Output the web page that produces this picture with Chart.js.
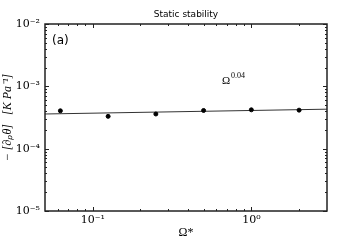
<!DOCTYPE html>
<html>
<head>
<meta charset="utf-8">
<script src="https://cdn.jsdelivr.net/npm/chart.js@4"></script>
<style>
  html, body { margin: 0; padding: 0; background: #fff; }
  #wrap { width: 363px; height: 242px; }
</style>
</head>
<body>
<div id="wrap"><canvas id="chart"></canvas></div>
<script>
// data
var omega = [0.0625, 0.125, 0.25, 0.5, 1, 2];
var stability = [4.05e-4, 3.3e-4, 3.6e-4, 4.1e-4, 4.2e-4, 4.15e-4];
var fitX = [0.05, 3];
var fitY = [3.6e-4, 4.3e-4];
var xTicks = [0.1, 1];
var yTicks = [1e-5, 1e-4, 1e-3, 1e-2];
var sup = { '-': '\u207B', '0': '\u2070', '1': '\u00B9', '2': '\u00B2', '3': '\u00B3', '4': '\u2074', '5': '\u2075' };

function powLabel(v) {
    var e = Math.round(Math.log10(v));
    return '10' + String(e).split('').map(function (c) { return sup[c]; }).join('');
}

function minorValues(min, max) {
    var out = [];
    for (var e = -6; e <= 1; e++) {
        for (var m = 2; m <= 9; m++) {
            var v = m * Math.pow(10, e);
            if (v > min && v < max) out.push(v);
        }
    }
    return out;
}

// inward ticks on all four sides, box frame, and text annotations
var frame = {
    id: 'frame',
    afterDraw: function (chart) {
        var c = chart.ctx, a = chart.chartArea;
        var xs = chart.scales.x, ys = chart.scales.y;
        c.save();
        c.strokeStyle = '#222';
        c.lineWidth = 1;
        function xt(v, len) {
            var p = Math.round(xs.getPixelForValue(v)) + 0.5;
            c.beginPath();
            c.moveTo(p, a.bottom); c.lineTo(p, a.bottom - len);
            c.moveTo(p, a.top); c.lineTo(p, a.top + len);
            c.stroke();
        }
        function yt(v, len) {
            var p = Math.round(ys.getPixelForValue(v)) + 0.5;
            c.beginPath();
            c.moveTo(a.left, p); c.lineTo(a.left + len, p);
            c.moveTo(a.right, p); c.lineTo(a.right - len, p);
            c.stroke();
        }
        xTicks.forEach(function (v) { xt(v, 4); });
        minorValues(xs.min, xs.max).forEach(function (v) { xt(v, 2); });
        yTicks.forEach(function (v) { yt(v, 4); });
        minorValues(ys.min, ys.max).forEach(function (v) { yt(v, 2); });
        c.lineWidth = 1.5;
        c.strokeRect(a.left, a.top, a.right - a.left, a.bottom - a.top);

        c.fillStyle = '#000';
        c.textBaseline = 'middle';
        c.textAlign = 'center';
        c.font = '9px "DejaVu Sans"';
        c.fillText('Static stability', (a.left + a.right) / 2, 15);
        c.textAlign = 'left';
        c.font = '12px "DejaVu Sans"';
        c.fillText('(a)', a.left + 7, 41);
        c.font = '11px "Liberation Serif"';
        c.fillText('\u03A9', 222, 81);
        c.font = '8px "Liberation Serif"';
        c.fillText('0.04', 231, 76);
        c.restore();
    }
};

var ctx = document.getElementById('chart').getContext('2d');
var chart = new Chart(ctx, {
    type: 'scatter',
    data: {
        datasets: [{
            data: omega.map(function (x, i) { return { x: x, y: stability[i] }; }),
            backgroundColor: '#000',
            borderColor: '#000',
            pointRadius: 2,
            pointHoverRadius: 2
        }, {
            data: fitX.map(function (x, i) { return { x: x, y: fitY[i] }; }),
            showLine: true,
            borderColor: '#333',
            borderWidth: 1,
            pointRadius: 0
        }]
    },
    options: {
        responsive: true,
        maintainAspectRatio: false,
        animation: false,
        layout: { padding: { top: 24, right: 36, left: 0, bottom: 0 } },
        plugins: { legend: { display: false }, tooltip: { enabled: false } },
        scales: {
            x: {
                type: 'logarithmic',
                min: 0.05,
                max: 3,
                afterBuildTicks: function (s) { s.ticks = xTicks.map(function (v) { return { value: v }; }); },
                afterFit: function (s) { s.height = 31; },
                grid: { display: false, drawTicks: false, tickLength: 0 },
                border: { display: false },
                ticks: {
                    color: '#000',
                    padding: 3,
                    maxRotation: 0,
                    font: { family: 'DejaVu Serif', size: 11 },
                    callback: function (v) { return powLabel(v); }
                },
                title: {
                    display: true,
                    text: '\u03A9*',
                    color: '#000',
                    padding: { top: 0, bottom: 2 },
                    font: { family: 'Liberation Serif', size: 12 }
                }
            },
            y: {
                type: 'logarithmic',
                min: 1e-5,
                max: 1e-2,
                afterBuildTicks: function (s) { s.ticks = yTicks.map(function (v) { return { value: v }; }); },
                afterFit: function (s) { s.width = 45; },
                grid: { display: false, drawTicks: false, tickLength: 0 },
                border: { display: false },
                ticks: {
                    color: '#000',
                    padding: 5,
                    font: { family: 'DejaVu Serif', size: 11 },
                    callback: function (v) { return powLabel(v); }
                },
                title: {
                    display: true,
                    text: '\u2212 [\u2202\u209A\u03B8]   [K Pa\u207B\u00B9]',
                    color: '#000',
                    padding: { top: 1, bottom: 0 },
                    font: { family: 'Liberation Serif', size: 12, style: 'italic' }
                }
            }
        }
    },
    plugins: [frame]
});
</script>
</body>
</html>
